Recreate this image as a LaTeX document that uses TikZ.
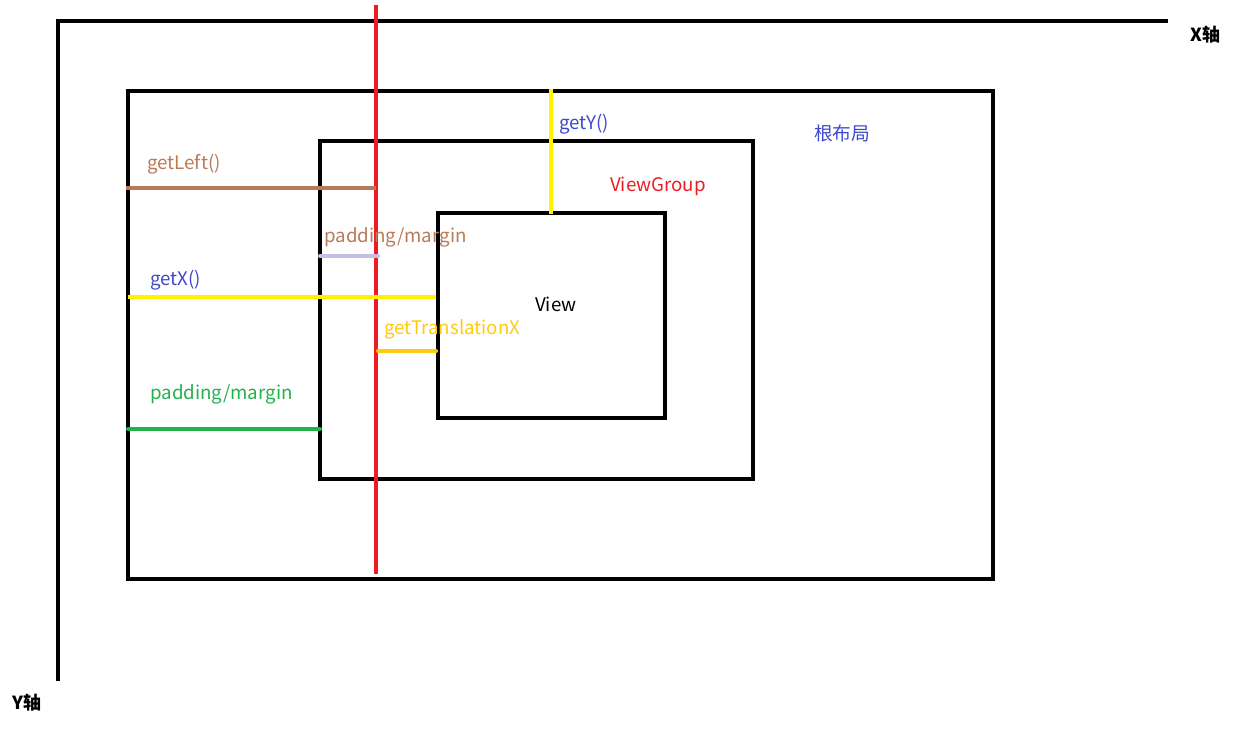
\documentclass[tikz,border=0pt]{standalone}
\usepackage{fontspec}
\setmainfont{Noto Sans CJK SC}
\definecolor{cred}{HTML}{ED1C24}
\definecolor{cbrown}{HTML}{B97A57}
\definecolor{clav}{HTML}{C8BFE7}
\definecolor{cyel}{HTML}{FFF200}
\definecolor{corange}{HTML}{FFC90E}
\definecolor{cgreen}{HTML}{22B14C}
\definecolor{cblue}{HTML}{3F48CC}
\tikzset{
  frame/.style={line width=4.5pt},
  mark line/.style={line width=4pt},
  lbl/.style={anchor=west, inner sep=0pt, font=\fontsize{18.7}{22}\selectfont},
  axlbl/.style={anchor=west, inner sep=0pt, font=\fontsize{18}{21}\selectfont\bfseries},
}
\begin{document}
\begin{tikzpicture}[x=1pt,y=-1pt]
\useasboundingbox (0,0) rectangle (1242,750);
% axes
\coordinate (o) at (58,21);
\coordinate (xe) at (1168,21);
\coordinate (ye) at (58,681);
\draw[frame] (xe) -- (o) -- (ye);
\node[axlbl] (xl) at (1190,35) {X轴};
\node[axlbl] (yl) at (12,703) {Y轴};
% boxes
\coordinate (r1) at (128,91); \coordinate (r2) at (993,579);
\coordinate (g1) at (320,141); \coordinate (g2) at (753,479);
\coordinate (v1) at (438,213); \coordinate (v2) at (665,418);
\draw[frame] (r1) rectangle (r2);
\draw[frame] (g1) rectangle (g2);
\draw[frame] (v1) rectangle (v2);
% red line
\coordinate (rt) at (376,5); \coordinate (rb) at (376,574);
\draw[mark line, cred] (rt) -- (rb);
% getLeft
\coordinate (la) at (126,188); \coordinate (lb) at (376,188);
\draw[mark line, cbrown] (la) -- (lb);
\node[lbl, text=cbrown] (tl) at (147,164) {getLeft()};
% padding lavender
\coordinate (pa) at (320,256); \coordinate (pb) at (378,256);
\draw[mark line, clav, line cap=round] (pa) -- (pb);
\node[lbl, text=cbrown] (tp) at (324,237) {padding/margin};
% getX
\coordinate (xa) at (128,297); \coordinate (xb) at (436,297);
\draw[mark line, cyel] (xa) -- (xb);
\node[lbl, text=cblue] (tx) at (150,280) {getX()};
% getTranslationX
\coordinate (ta) at (378,351); \coordinate (tb) at (436,351);
\draw[mark line, corange, line cap=round] (ta) -- (tb);
\node[lbl, text=corange] (tt) at (384,329) {getTranslationX};
% green padding
\coordinate (ga) at (128,429); \coordinate (gb) at (320,429);
\draw[mark line, cgreen, line cap=round] (ga) -- (gb);
\node[lbl, text=cgreen] (tg) at (150,394) {padding/margin};
% getY
\coordinate (ya) at (551,89); \coordinate (yb) at (551,214);
\draw[mark line, cyel] (ya) -- (yb);
\node[lbl, text=cblue] (ty) at (559,124) {getY()};
% labels
\node[lbl, text=cblue] (root) at (814,133) {根布局};
\node[lbl, text=cred] (vg) at (610,186) {ViewGroup};
\node[lbl, text=black] (vw) at (535,304) {View};
\end{tikzpicture}
\end{document}
